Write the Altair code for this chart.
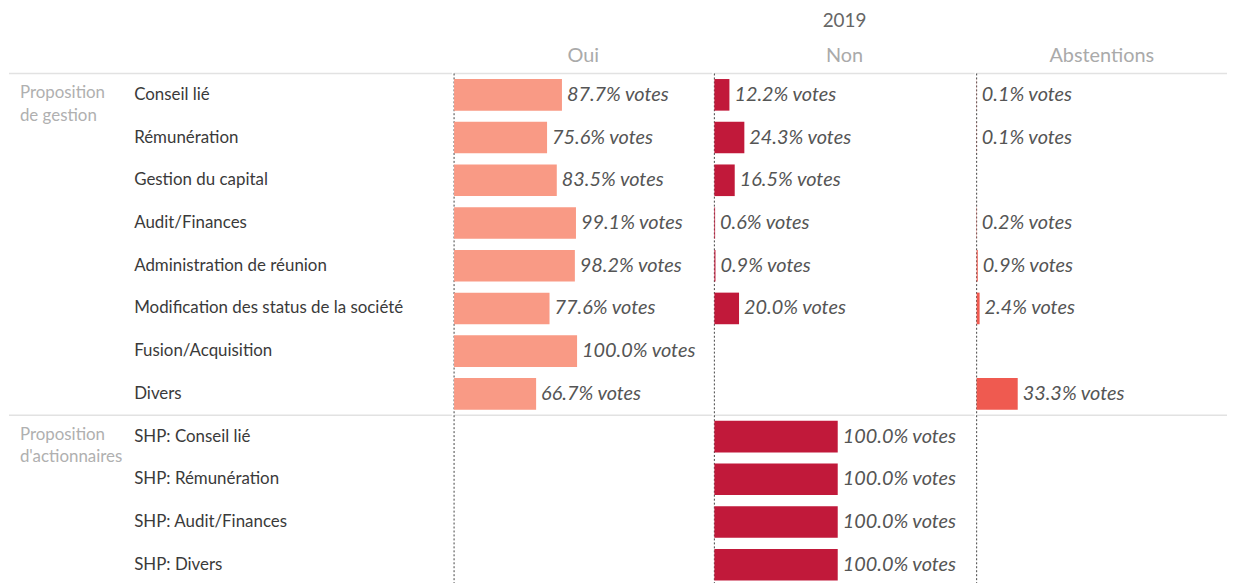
import altair as alt
import pandas as pd

categories = [
    "Conseil lié", "Rémunération", "Gestion du capital", "Audit/Finances",
    "Administration de réunion", "Modification des status de la société",
    "Fusion/Acquisition", "Divers",
    "SHP: Conseil lié", "SHP: Rémunération", "SHP: Audit/Finances", "SHP: Divers",
]
group_names = ["Proposition\nde gestion", "Proposition\nd'actionnaires"]
group_of_row = [0] * 8 + [1] * 4
oui = [87.7, 75.6, 83.5, 99.1, 98.2, 77.6, 100.0, 66.7, None, None, None, None]
non = [12.2, 24.3, 16.5, 0.6, 0.9, 20.0, None, None, 100.0, 100.0, 100.0, 100.0]
abst = [0.1, 0.1, None, 0.2, 0.9, 2.4, None, 33.3, None, None, None, None]
vote_types = ["Oui", "Non", "Abstentions"]
year = "2019"

colors = {"Oui": "#F99A85", "Non": "#C1193A", "Abstentions": "#EF5A50"}
FONT = "Lato"
H = 516

rows = []
for vt, series in zip(vote_types, [oui, non, abst]):
    for cat, v in zip(categories, series):
        if v is not None:
            rows.append({"cat": cat, "type": vt, "value": v, "label": f"{v:.1f}% votes"})
df = pd.DataFrame(rows)

first_cats = []
group_rows = []
for gi, gname in enumerate(group_names):
    idx = group_of_row.index(gi)
    first_cats.append(categories[idx])
    group_rows.append({"cat": categories[idx], "group": gname})
sep_df = pd.DataFrame({"cat": first_cats})
grp_df = pd.DataFrame(group_rows)
lab_df = pd.DataFrame({"cat": categories})
zero_df = pd.DataFrame({"z": [0]})

yscale = alt.Scale(domain=categories, paddingInner=0, paddingOuter=0)


def mk_title(text, sub):
    return alt.Title(
        text=text, subtitle=sub, font=FONT, fontSize=19, fontWeight="normal",
        color="#666666", subtitleFont=FONT, subtitleFontSize=20,
        subtitleColor="#aaaaaa", anchor="middle", offset=6.5, subtitlePadding=15.5,
    )


def sep_layer():
    return alt.Chart(sep_df).mark_rule(color="#e2e2e2", strokeWidth=1.5).encode(
        y=alt.Y("cat:N", bandPosition=0, scale=yscale, axis=None)
    )


def panel(vt, width, xmax, title_text):
    base = alt.Chart(df[df["type"] == vt])
    xenc = alt.X("value:Q", scale=alt.Scale(domain=[0, xmax]), axis=None)
    yenc = alt.Y("cat:N", scale=yscale, axis=None)
    bars = base.mark_bar(color=colors[vt], height={"band": 0.74}).encode(x=xenc, y=yenc)
    text = base.mark_text(
        align="left", baseline="middle", dx=5, font=FONT, fontSize=20,
        fontStyle="italic", color="#555555",
    ).encode(x=xenc, y=yenc, text="label:N")
    zero = alt.Chart(zero_df).mark_rule(
        color="#444444", strokeDash=[2, 2], strokeWidth=1
    ).encode(x=alt.X("z:Q", scale=alt.Scale(domain=[0, xmax]), axis=None))
    return alt.layer(sep_layer(), zero, bars, text).properties(
        width=width, height=H, title=mk_title(title_text, vt)
    )


row_labels = alt.Chart(lab_df).mark_text(
    align="left", baseline="middle", font=FONT, fontSize=17, color="#3a3a3a"
).encode(x=alt.value(126), y=alt.Y("cat:N", scale=yscale, axis=None), text="cat:N")

grp_labels = alt.Chart(grp_df).mark_text(
    align="left", baseline="top", dy=-10, font=FONT, fontSize=17, color="#b0b0b0",
    lineBreak="\n", lineHeight=23,
).encode(x=alt.value(11), y=alt.Y("cat:N", scale=yscale, axis=None), text="group:N")

label_panel = alt.layer(sep_layer(), row_labels, grp_labels).properties(
    width=446, height=H, title=mk_title(" ", " ")
)

chart = alt.hconcat(
    label_panel,
    panel("Oui", 260, 210, " "),
    panel("Non", 262, 211, year),
    panel("Abstentions", 252, 203, " "),
    spacing=0,
).resolve_scale(x="independent").configure_view(stroke=None).properties(
    padding={"top": 2, "left": 0, "right": 0, "bottom": 0}
)

chart.save("out.html", embed_options={"renderer": "svg", "actions": False})
